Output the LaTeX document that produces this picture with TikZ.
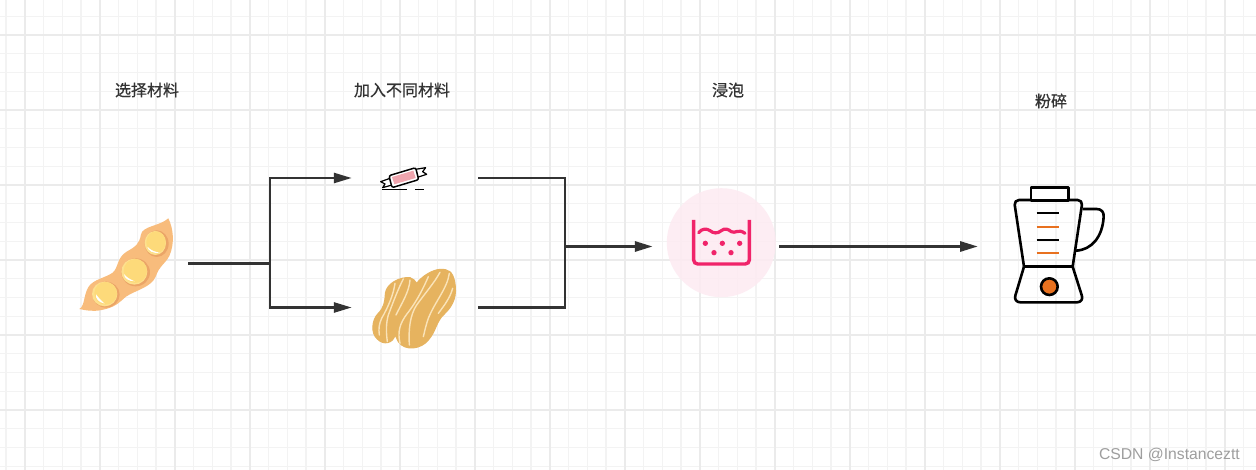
\documentclass[tikz,border=0pt]{standalone}
\usepackage{fontspec}
\usepackage{tikz}
\usetikzlibrary{positioning,arrows.meta}
\newfontfamily\cjk[FakeBold=0.6]{Noto Sans CJK SC}
\newfontfamily\markfont{Liberation Sans}
\definecolor{minorgrid}{HTML}{F3F3F3}
\definecolor{majorgrid}{HTML}{EBEBEB}
\definecolor{wire}{HTML}{333333}
\definecolor{podfill}{HTML}{F8BC7C}
\definecolor{podshade}{HTML}{EBA567}
\definecolor{seedrim}{HTML}{FDE08E}
\definecolor{seedfill}{HTML}{FDDA7A}
\definecolor{nutfill}{HTML}{E6B35F}
\definecolor{nutline}{HTML}{FAE3B8}
\definecolor{candyfill}{HTML}{EFA5AE}
\definecolor{soakfill}{HTML}{FDEAF1}
\definecolor{soakline}{HTML}{F0246A}
\definecolor{bladeline}{HTML}{E8711F}
\tikzstyle{title} = [font=\cjk\fontsize{16}{16}\selectfont, text=wire, inner sep=0pt]
\tikzstyle{icon} = [inner sep=0pt, minimum height=20pt]
\tikzstyle{wireline} = [draw=wire, line width=2.6pt]
\tikzstyle{flow} = [wireline, -{Triangle[length=18pt,width=10pt]}]
\tikzstyle{jar} = [draw=black, line width=2.6pt, line join=round]

\begin{document}
\begin{tikzpicture}[x=1pt,y=-1pt]
	\useasboundingbox (0,0) rectangle (1256,470);
	\fill[white] (0,0) rectangle (1256,470);
	% grid
	\foreach \k in {0,...,67} {
		\draw[minorgrid, line width=1.4pt] ({6+18.75*\k},0) -- ({6+18.75*\k},470);
	}
	\foreach \k in {0,...,25} {
		\draw[minorgrid, line width=1.4pt] (0,{-2.5+18.75*\k}) -- (1256,{-2.5+18.75*\k});
	}
	\foreach \k in {0,...,16} {
		\draw[majorgrid, line width=1.4pt] ({25+75*\k},0) -- ({25+75*\k},470);
	}
	\foreach \k in {0,...,6} {
		\draw[majorgrid, line width=1.4pt] (0,{35+75*\k}) -- (1256,{35+75*\k});
	}
	% titles
	\node[title] (t1) at (147, 90) {选择材料};
	\node[title] (t2) at (402, 90) {加入不同材料};
	\node[title] (t3) at (728, 90) {浸泡};
	\node[title] (t4) at (1051, 101) {粉碎};
	% steps
	\node[icon, minimum width=110pt] (bean) at (133, 263.5) {};
	\node[icon, minimum width=126pt] (candy) at (415, 178) {};
	\node[icon, minimum width=126pt] (peanut) at (415, 307.5) {};
	\node[icon, minimum width=126pt] (soak) at (716, 246.5) {};
	\node[icon, minimum width=1pt, anchor=west] (blender) at (978, 246.5) {};
	\coordinate (split) at (270, 263.5);
	\coordinate (merge) at (565, 246.5);
	% bean
	\begin{scope}[shift={(60,200)}, x=0.3333pt, y=-0.3333pt]
		\fill[podfill] (325,55) .. controls (340,85) and (345,130) .. (328,168)
			.. controls (315,192) and (298,198) .. (288,228)
			.. controls (275,262) and (228,270) .. (198,290)
			.. controls (175,310) and (165,322) .. (125,330)
			.. controls (100,335) and (80,332) .. (58,327)
			.. controls (75,318) and (70,285) .. (86,260)
			.. controls (100,238) and (138,233) .. (158,218)
			.. controls (176,203) and (170,173) .. (200,155)
			.. controls (226,140) and (238,133) .. (243,103)
			.. controls (248,78) and (300,78) .. (325,55) -- cycle;
		\fill[podshade] (138,284) ellipse (41 and 39);
		\fill[podshade] (227,217) ellipse (43 and 42);
		\fill[podshade] (290,131) ellipse (36 and 40);
		\fill[seedrim] (134,282) ellipse (38 and 37);
		\fill[seedrim] (223,215) ellipse (39 and 39);
		\fill[seedrim] (286,129) ellipse (32 and 36);
		\fill[seedfill] (137,280) ellipse (34 and 34);
		\fill[seedfill] (226,213) ellipse (35 and 36);
		\fill[seedfill] (288,127) ellipse (29 and 33);
		\fill[white] (108,283) .. controls (106,295) and (115,307) .. (134,311) .. controls (120,298) and (114,292) .. (108,283) -- cycle;
		\fill[white] (192,222) .. controls (192,234) and (205,244) .. (224,244) .. controls (208,237) and (200,232) .. (192,222) -- cycle;
		\fill[white] (262,140) .. controls (265,153) and (280,162) .. (300,158) .. controls (285,156) and (272,151) .. (262,140) -- cycle;
	\end{scope}
	% candy
	\begin{scope}[shift={(360,155)}, x=0.3333pt, y=-0.3333pt]
		\draw[black, line width=1.2pt, fill=white, line join=round] (90,70) -- (62,80) -- (75,87) -- (68,98) -- (96,90);
		\draw[black, line width=1.2pt, fill=white, line join=round] (167,43) -- (197,38) -- (188,50) -- (200,58) -- (175,66);
		\draw[black, line width=1.5pt, fill=white, rounded corners=2pt] (87,62) -- (167,38) -- (176,74) -- (96,98) -- cycle;
		\fill[candyfill] (96,66) -- (160,47) -- (167,69) -- (103,88) -- cycle;
		\draw[black, line width=1.3pt] (67,103) -- (142,103);
		\draw[black, line width=1.3pt] (165,103) -- (192,103);
	\end{scope}
	% peanut
	\begin{scope}[shift={(360,155)}, x=0.3333pt, y=-0.3333pt]
		\fill[nutfill, draw=nutfill, line width=1pt] (240,343) .. controls (265,342) and (278,350) .. (284,380)
			.. controls (292,420) and (282,450) .. (252,478)
			.. controls (228,500) and (228,530) .. (205,555)
			.. controls (185,582) and (135,590) .. (115,560)
			.. controls (110,550) and (108,545) .. (105,540)
			.. controls (100,565) and (70,572) .. (52,552)
			.. controls (32,535) and (35,495) .. (55,475)
			.. controls (72,458) and (75,440) .. (76,415)
			.. controls (80,385) and (120,365) .. (150,368)
			.. controls (160,370) and (165,378) .. (170,385)
			.. controls (185,365) and (215,345) .. (240,343) -- cycle;
		\begin{scope}[draw=nutline, line width=1.4pt, line cap=round]
			\draw (268,355) .. controls (262,400) and (225,440) .. (205,490) .. controls (198,510) and (195,525) .. (190,545);
			\draw (240,352) .. controls (222,385) and (195,415) .. (170,450) .. controls (150,480) and (145,525) .. (148,570);
			\draw (205,365) .. controls (190,400) and (170,440) .. (140,478) .. controls (120,505) and (112,530) .. (120,565);
			\draw (278,400) .. controls (270,430) and (250,455) .. (235,475);
			\draw (150,375) .. controls (148,410) and (125,445) .. (108,480);
			\draw (130,372) .. controls (115,400) and (100,440) .. (85,480) .. controls (78,505) and (78,530) .. (82,560);
			\draw (105,385) .. controls (100,420) and (85,455) .. (65,490) .. controls (58,505) and (55,520) .. (58,540);
		\end{scope}
	\end{scope}
	% soak
	\fill[soakfill, fill opacity=0.85] (721.3, 242.7) circle (54.5);
	\begin{scope}[shift={(660,180)}, x=0.3333pt, y=-0.3333pt]
		\draw[soakline, line width=3.4pt, rounded corners=4pt] (101,120) -- (101,252) -- (268,252) -- (268,120);
		\draw[soakline, line width=3.2pt, line cap=round] (116,158) .. controls (126,145) and (140,145) .. (150,152)
			.. controls (160,160) and (172,162) .. (184,152)
			.. controls (195,143) and (205,148) .. (214,155)
			.. controls (225,162) and (235,145) .. (255,160);
		\foreach \dotx/\doty in {136/190, 187/190, 239/190, 162/218, 213/218} {
			\fill[soakline] (\dotx,\doty) circle (8);
		}
	\end{scope}
	% blender
	\begin{scope}[shift={(1000,180)}, x=0.3333pt, y=-0.3333pt]
		\draw[jar] (248,87) -- (290,87) .. controls (305,87) and (312,97) .. (311,110)
			.. controls (308,170) and (275,210) .. (228,212);
		\draw[jar, rounded corners=5pt] (72,260) -- (42,60) -- (248,60) -- (218,260);
		\draw[jar] (72,260) -- (218,260);
		\draw[jar, rounded corners=7pt] (72,260) -- (40,367) -- (252,367) -- (218,260);
		\draw[jar, fill=white] (93,23) rectangle (205,62);
		\draw[jar, fill=bladeline] (148,320) circle (25);
		\draw[black, line width=2.2pt] (110,100) -- (176,100);
		\draw[bladeline, line width=2.2pt] (110,140) -- (176,140);
		\draw[black, line width=2.2pt] (110,180) -- (176,180);
		\draw[bladeline, line width=2.2pt] (110,220) -- (176,220);
	\end{scope}
	% connectors
	\draw[wireline, line width=3pt] (bean.east) -- (split);
	\draw[flow] (split) |- (candy.west);
	\draw[flow] (split) |- (peanut.west);
	\draw[wireline] (candy.east) -| (merge);
	\draw[wireline] (peanut.east) -| (merge);
	\draw[flow, line width=3pt] (merge) -- (soak.west);
	\draw[flow, line width=3pt] (soak.east) -- (blender.west);
	% watermark
	\node[inner sep=0pt, anchor=east, text=black!38, font=\markfont\fontsize{15.7}{16}\selectfont] (csdn) at (1240, 455) {CSDN @Instanceztt};
\end{tikzpicture}
\end{document}
